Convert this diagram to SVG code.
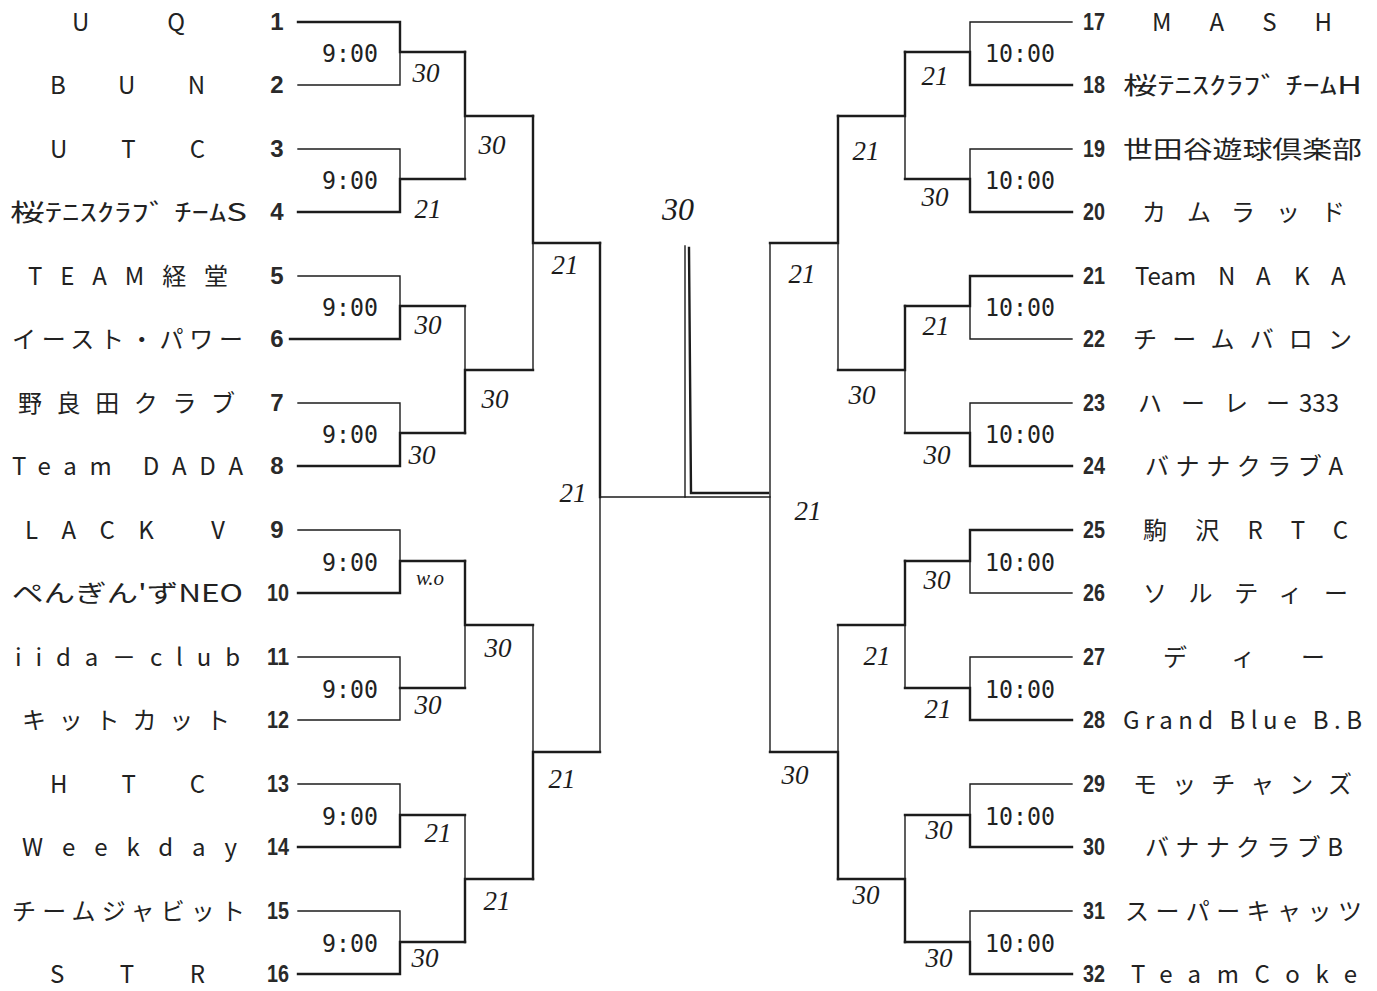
<svg xmlns="http://www.w3.org/2000/svg" width="1377" height="991" viewBox="0 0 1377 991">
<style>
.bg{fill:#ffffff}
.ln{fill:none;stroke:#1c1c1c;stroke-width:1.4;stroke-linecap:square}
.win{fill:none;stroke:#1c1c1c;stroke-width:2.4;stroke-linecap:square;stroke-linejoin:miter}
.name{font-family:"Noto Sans CJK JP","Liberation Sans",sans-serif;font-size:24px;fill:#222}
.num{font-family:"Liberation Sans",sans-serif;font-size:24px;font-weight:bold;fill:#2a2a2a;text-anchor:middle}
.time{font-family:"DejaVu Sans Mono","Liberation Mono",monospace;font-size:25px;fill:#222;text-anchor:middle}
.score{font-family:"Liberation Serif",serif;font-style:italic;font-size:27px;fill:#1c1c1c;text-anchor:middle}
</style>
<rect class="bg" x="0" y="0" width="1377" height="991"/>

<g id="connectors">
  <path class="ln" d="M298 22H400V85H298M400 52H465"/>
  <path class="ln" d="M298 149H400V212H298M400 179H465"/>
  <path class="ln" d="M298 276H400V339H298M400 306H465"/>
  <path class="ln" d="M298 403H400V466H298M400 433H465"/>
  <path class="ln" d="M298 530H400V593H298M400 561H465"/>
  <path class="ln" d="M298 657H400V720H298M400 688H465"/>
  <path class="ln" d="M298 784H400V847H298M400 815H465"/>
  <path class="ln" d="M298 911H400V974H298M400 942H465"/>
  <path class="ln" d="M465 52V179M465 116H533"/>
  <path class="ln" d="M465 306V433M465 370H533"/>
  <path class="ln" d="M465 561V688M465 625H533"/>
  <path class="ln" d="M465 815V942M465 879H533"/>
  <path class="ln" d="M533 116V370M533 243H600"/>
  <path class="ln" d="M533 625V879M533 752H600"/>
  <path class="ln" d="M600 243V752M600 497H770"/>
  <path class="ln" d="M1072 22H970V85H1072M970 52H905"/>
  <path class="ln" d="M1072 149H970V212H1072M970 179H905"/>
  <path class="ln" d="M1072 276H970V339H1072M970 306H905"/>
  <path class="ln" d="M1072 403H970V466H1072M970 433H905"/>
  <path class="ln" d="M1072 530H970V593H1072M970 561H905"/>
  <path class="ln" d="M1072 657H970V720H1072M970 688H905"/>
  <path class="ln" d="M1072 784H970V847H1072M970 815H905"/>
  <path class="ln" d="M1072 911H970V974H1072M970 942H905"/>
  <path class="ln" d="M905 52V179M905 116H838"/>
  <path class="ln" d="M905 306V433M905 370H838"/>
  <path class="ln" d="M905 561V688M905 625H838"/>
  <path class="ln" d="M905 815V942M905 879H838"/>
  <path class="ln" d="M838 116V370M838 243H770"/>
  <path class="ln" d="M838 625V879M838 752H770"/>
  <path class="ln" d="M770 243V752"/>
  <path class="win" d="M298 22H400V52H465"/>
  <path class="win" d="M298 212H400V179H465"/>
  <path class="win" d="M290 339H400V306H465"/>
  <path class="win" d="M298 466H400V433H465"/>
  <path class="win" d="M298 593H400V561H465"/>
  <path class="win" d="M400 688H465"/>
  <path class="win" d="M298 847H400V815H465"/>
  <path class="win" d="M298 974H400V942H465"/>
  <path class="win" d="M465 52V116H533"/>
  <path class="win" d="M465 433V370H533"/>
  <path class="win" d="M465 561V625H533"/>
  <path class="win" d="M465 942V879H533"/>
  <path class="win" d="M533 116V243H600"/>
  <path class="win" d="M533 879V752H600"/>
  <path class="win" d="M600 243V497"/>
  <path class="win" d="M1072 85H970V52H905"/>
  <path class="win" d="M1072 212H970V179H905"/>
  <path class="win" d="M1072 276H970V306H905"/>
  <path class="win" d="M1072 466H970V433H905"/>
  <path class="win" d="M1072 530H970V561H905"/>
  <path class="win" d="M1072 720H970V688H905"/>
  <path class="win" d="M1072 847H970V815H905"/>
  <path class="win" d="M1072 974H970V942H905"/>
  <path class="win" d="M905 52V116H838"/>
  <path class="win" d="M905 306V370H838"/>
  <path class="win" d="M905 561V625H838"/>
  <path class="win" d="M905 942V879H838"/>
  <path class="win" d="M838 116V243H770"/>
  <path class="win" d="M838 879V752H770"/>
  <path class="ln" d="M685 246V497"/>
  <path class="win" d="M689 248L691 493H768"/>
</g>

<g id="team-1"><text class="name" x="72" y="31" textLength="113" lengthAdjust="spacing">U Q</text><text class="num" x="277" y="30">1</text></g>
<g id="team-2"><text class="name" x="50" y="94" textLength="155" lengthAdjust="spacing">B U N</text><text class="num" x="277" y="93">2</text></g>
<g id="team-3"><text class="name" x="50" y="158" textLength="155" lengthAdjust="spacing">U T C</text><text class="num" x="277" y="157">3</text></g>
<g id="team-4"><text class="name" x="10" y="221" textLength="237" lengthAdjust="spacingAndGlyphs">桜ﾃﾆｽｸﾗﾌﾞ ﾁｰﾑS</text><text class="num" x="277" y="220">4</text></g>
<g id="team-5"><text class="name" x="28" y="285" textLength="200" lengthAdjust="spacing">TEAM経堂</text><text class="num" x="277" y="284">5</text></g>
<g id="team-6"><text class="name" x="12" y="348" textLength="231" lengthAdjust="spacing">イースト・パワー</text><text class="num" x="277" y="347">6</text></g>
<g id="team-7"><text class="name" x="18" y="412" textLength="217" lengthAdjust="spacing">野良田クラブ</text><text class="num" x="277" y="411">7</text></g>
<g id="team-8"><text class="name" x="12" y="475" textLength="231" lengthAdjust="spacing">Team DADA</text><text class="num" x="277" y="474">8</text></g>
<g id="team-9"><text class="name" x="25" y="539" textLength="205" lengthAdjust="spacing">LACK Ⅴ</text><text class="num" x="277" y="538">9</text></g>
<g id="team-10"><text class="name" x="12" y="602" textLength="231" lengthAdjust="spacingAndGlyphs">ぺんぎん'ずNEO</text><text class="num" x="278" y="601" textLength="22" lengthAdjust="spacingAndGlyphs">10</text></g>
<g id="team-11"><text class="name" x="15" y="666" textLength="225" lengthAdjust="spacing">iida－club</text><text class="num" x="278" y="665" textLength="22" lengthAdjust="spacingAndGlyphs">11</text></g>
<g id="team-12"><text class="name" x="22" y="729" textLength="208" lengthAdjust="spacing">キットカット</text><text class="num" x="278" y="728" textLength="22" lengthAdjust="spacingAndGlyphs">12</text></g>
<g id="team-13"><text class="name" x="50" y="793" textLength="155" lengthAdjust="spacing">H T C</text><text class="num" x="278" y="792" textLength="22" lengthAdjust="spacingAndGlyphs">13</text></g>
<g id="team-14"><text class="name" x="22" y="856" textLength="215" lengthAdjust="spacing">Weekday</text><text class="num" x="278" y="855" textLength="22" lengthAdjust="spacingAndGlyphs">14</text></g>
<g id="team-15"><text class="name" x="12" y="920" textLength="233" lengthAdjust="spacing">チームジャビット</text><text class="num" x="278" y="919" textLength="22" lengthAdjust="spacingAndGlyphs">15</text></g>
<g id="team-16"><text class="name" x="50" y="983" textLength="155" lengthAdjust="spacing">S T R</text><text class="num" x="278" y="982" textLength="22" lengthAdjust="spacingAndGlyphs">16</text></g>

<g id="team-17"><text class="num" x="1094" y="30" textLength="22" lengthAdjust="spacingAndGlyphs">17</text><text class="name" x="1152" y="31" textLength="180" lengthAdjust="spacing">MASH</text></g>
<g id="team-18"><text class="num" x="1094" y="93" textLength="22" lengthAdjust="spacingAndGlyphs">18</text><text class="name" x="1123" y="94" textLength="239" lengthAdjust="spacingAndGlyphs">桜ﾃﾆｽｸﾗﾌﾞ ﾁｰﾑH</text></g>
<g id="team-19"><text class="num" x="1094" y="157" textLength="22" lengthAdjust="spacingAndGlyphs">19</text><text class="name" x="1123" y="158" textLength="239" lengthAdjust="spacingAndGlyphs">世田谷遊球倶楽部</text></g>
<g id="team-20"><text class="num" x="1094" y="220" textLength="22" lengthAdjust="spacingAndGlyphs">20</text><text class="name" x="1142" y="221" textLength="203" lengthAdjust="spacing">カムラッド</text></g>
<g id="team-21"><text class="num" x="1094" y="284" textLength="22" lengthAdjust="spacingAndGlyphs">21</text><text class="name" y="285"><tspan x="1135">Team</tspan> <tspan x="1218 1256 1294 1331">NAKA</tspan></text></g>
<g id="team-22"><text class="num" x="1094" y="347" textLength="22" lengthAdjust="spacingAndGlyphs">22</text><text class="name" x="1133" y="348" textLength="219" lengthAdjust="spacing">チームバロン</text></g>
<g id="team-23"><text class="num" x="1094" y="411" textLength="22" lengthAdjust="spacingAndGlyphs">23</text><text class="name" y="412"><tspan x="1138 1181 1224 1266">ハーレー</tspan> <tspan x="1299">333</tspan></text></g>
<g id="team-24"><text class="num" x="1094" y="474" textLength="22" lengthAdjust="spacingAndGlyphs">24</text><text class="name" x="1145" y="475" textLength="198" lengthAdjust="spacing">バナナクラブA</text></g>
<g id="team-25"><text class="num" x="1094" y="538" textLength="22" lengthAdjust="spacingAndGlyphs">25</text><text class="name" x="1143" y="539" textLength="205" lengthAdjust="spacing">駒沢RTC</text></g>
<g id="team-26"><text class="num" x="1094" y="601" textLength="22" lengthAdjust="spacingAndGlyphs">26</text><text class="name" x="1143" y="602" textLength="205" lengthAdjust="spacing">ソルティー</text></g>
<g id="team-27"><text class="num" x="1094" y="665" textLength="22" lengthAdjust="spacingAndGlyphs">27</text><text class="name" x="1163" y="666" textLength="162" lengthAdjust="spacing">ディー</text></g>
<g id="team-28"><text class="num" x="1094" y="728" textLength="22" lengthAdjust="spacingAndGlyphs">28</text><text class="name" x="1123" y="729" textLength="239" lengthAdjust="spacing">Grand Blue B.B</text></g>
<g id="team-29"><text class="num" x="1094" y="792" textLength="22" lengthAdjust="spacingAndGlyphs">29</text><text class="name" x="1133" y="793" textLength="219" lengthAdjust="spacing">モッチャンズ</text></g>
<g id="team-30"><text class="num" x="1094" y="855" textLength="22" lengthAdjust="spacingAndGlyphs">30</text><text class="name" x="1145" y="856" textLength="198" lengthAdjust="spacing">バナナクラブB</text></g>
<g id="team-31"><text class="num" x="1094" y="919" textLength="22" lengthAdjust="spacingAndGlyphs">31</text><text class="name" x="1125" y="920" textLength="237" lengthAdjust="spacing">スーパーキャッツ</text></g>
<g id="team-32"><text class="num" x="1094" y="982" textLength="22" lengthAdjust="spacingAndGlyphs">32</text><text class="name" x="1131" y="983" textLength="226" lengthAdjust="spacing">TeamCoke</text></g>

<g id="match-1"><text class="time" x="350" y="62" textLength="56" lengthAdjust="spacingAndGlyphs">9:00</text></g>
<g id="match-2"><text class="time" x="350" y="189" textLength="56" lengthAdjust="spacingAndGlyphs">9:00</text></g>
<g id="match-3"><text class="time" x="350" y="316" textLength="56" lengthAdjust="spacingAndGlyphs">9:00</text></g>
<g id="match-4"><text class="time" x="350" y="443" textLength="56" lengthAdjust="spacingAndGlyphs">9:00</text></g>
<g id="match-5"><text class="time" x="350" y="571" textLength="56" lengthAdjust="spacingAndGlyphs">9:00</text></g>
<g id="match-6"><text class="time" x="350" y="698" textLength="56" lengthAdjust="spacingAndGlyphs">9:00</text></g>
<g id="match-7"><text class="time" x="350" y="825" textLength="56" lengthAdjust="spacingAndGlyphs">9:00</text></g>
<g id="match-8"><text class="time" x="350" y="952" textLength="56" lengthAdjust="spacingAndGlyphs">9:00</text></g>
<g id="match-9"><text class="time" x="1020" y="62" textLength="70" lengthAdjust="spacingAndGlyphs">10:00</text></g>
<g id="match-10"><text class="time" x="1020" y="189" textLength="70" lengthAdjust="spacingAndGlyphs">10:00</text></g>
<g id="match-11"><text class="time" x="1020" y="316" textLength="70" lengthAdjust="spacingAndGlyphs">10:00</text></g>
<g id="match-12"><text class="time" x="1020" y="443" textLength="70" lengthAdjust="spacingAndGlyphs">10:00</text></g>
<g id="match-13"><text class="time" x="1020" y="571" textLength="70" lengthAdjust="spacingAndGlyphs">10:00</text></g>
<g id="match-14"><text class="time" x="1020" y="698" textLength="70" lengthAdjust="spacingAndGlyphs">10:00</text></g>
<g id="match-15"><text class="time" x="1020" y="825" textLength="70" lengthAdjust="spacingAndGlyphs">10:00</text></g>
<g id="match-16"><text class="time" x="1020" y="952" textLength="70" lengthAdjust="spacingAndGlyphs">10:00</text></g>

<g id="scores">
  <text class="score" x="426" y="82">30</text>
  <text class="score" x="428" y="218">21</text>
  <text class="score" x="492" y="154">30</text>
  <text class="score" x="565" y="274">21</text>
  <text class="score" x="428" y="334">30</text>
  <text class="score" x="495" y="408">30</text>
  <text class="score" x="422" y="464">30</text>
  <text class="score" x="573" y="502">21</text>
  <text class="score" x="430" y="585" style="font-size:21px">w.o</text>
  <text class="score" x="498" y="657">30</text>
  <text class="score" x="428" y="714">30</text>
  <text class="score" x="438" y="842">21</text>
  <text class="score" x="497" y="910">21</text>
  <text class="score" x="425" y="967">30</text>
  <text class="score" x="562" y="788">21</text>
  <text class="score" x="678" y="220" style="font-size:32px">30</text>
  <text class="score" x="935" y="85">21</text>
  <text class="score" x="935" y="206">30</text>
  <text class="score" x="866" y="160">21</text>
  <text class="score" x="802" y="283">21</text>
  <text class="score" x="936" y="335">21</text>
  <text class="score" x="862" y="404">30</text>
  <text class="score" x="937" y="464">30</text>
  <text class="score" x="808" y="520">21</text>
  <text class="score" x="937" y="589">30</text>
  <text class="score" x="877" y="665">21</text>
  <text class="score" x="938" y="718">21</text>
  <text class="score" x="795" y="784">30</text>
  <text class="score" x="939" y="839">30</text>
  <text class="score" x="866" y="904">30</text>
  <text class="score" x="939" y="967">30</text>
</g>
</svg>
